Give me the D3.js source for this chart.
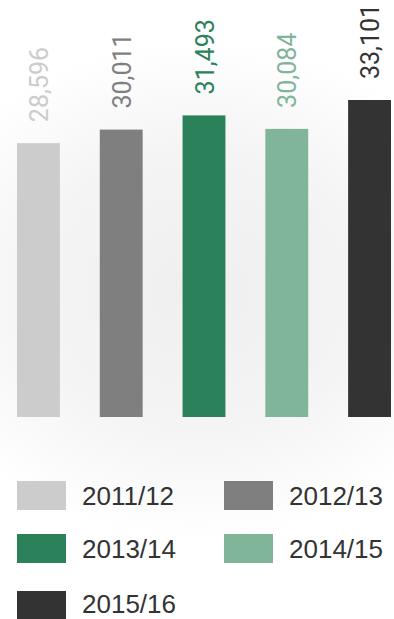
<!DOCTYPE html>
<html>
<head>
<meta charset="utf-8">
<script src="https://cdn.jsdelivr.net/npm/d3@7"></script>
<style>
  html, body { margin: 0; padding: 0; background: #fff; }
  svg { display: block; }
</style>
</head>
<body>
<div id="chart"></div>
<script>
// Yearly totals per season
const seasons = ["2011/12", "2012/13", "2013/14", "2014/15", "2015/16"];
const totals = [28596, 30011, 31493, 30084, 33101];
const colors = ["#cccccc", "#7f7f7f", "#2b8159", "#80b59a", "#333333"];

const W = 394, H = 619;
const svg = d3.select("#chart").append("svg")
  .attr("width", W).attr("height", H);

// soft backdrop glow behind the bars
const defs = svg.append("defs");
const grad = defs.append("radialGradient").attr("id", "glow")
  .attr("cx", "50%").attr("cy", "50%").attr("r", "50%");
grad.append("stop").attr("offset", "0%").attr("stop-color", "#efefef");
grad.append("stop").attr("offset", "55%").attr("stop-color", "#f4f4f4");
grad.append("stop").attr("offset", "100%").attr("stop-color", "#ffffff");
svg.append("rect").attr("width", W).attr("height", H).attr("fill", "#fff");
svg.append("ellipse")
  .attr("cx", 200).attr("cy", 290).attr("rx", 300).attr("ry", 250)
  .attr("fill", "url(#glow)");

const x = d3.scaleBand().domain(seasons).range([17, 391]).paddingInner(0.482).paddingOuter(0);
const y = d3.scaleLinear().domain([0, 33101]).range([417, 100]);

const fmt = d3.format(",");

const g = svg.append("g");
g.selectAll("rect.bar")
  .data(seasons)
  .join("rect")
  .attr("class", "bar")
  .attr("x", d => x(d))
  .attr("width", x.bandwidth())
  .attr("y", (d, i) => y(totals[i]))
  .attr("height", (d, i) => y(0) - y(totals[i]))
  .attr("fill", (d, i) => colors[i]);

g.selectAll("text.val")
  .data(seasons)
  .join("text")
  .attr("class", "val")
  .attr("transform", (d, i) => `translate(${x(d) + x.bandwidth() / 2},${y(totals[i]) - 21}) rotate(-90)`)
  .attr("dy", "0.38em")
  .attr("text-anchor", "start")
  .attr("font-family", "Roboto, sans-serif")
  .attr("font-size", 25)
  .attr("fill", (d, i) => colors[i])
  .text((d, i) => fmt(totals[i]));

// legend: two columns
const legendRows = [481, 534, 591];
const legendCols = [17, 224];
const leg = svg.append("g");
seasons.forEach((s, i) => {
  const col = i % 2, row = Math.floor(i / 2);
  const lx = legendCols[col], ly = legendRows[row];
  leg.append("rect")
    .attr("x", lx).attr("y", ly).attr("width", 49).attr("height", 29)
    .attr("fill", colors[i]);
  leg.append("text")
    .attr("x", lx + 65).attr("y", Math.min(ly + 24, 613))
    .attr("font-family", "'Liberation Sans', Arial, Helvetica, sans-serif")
    .attr("font-size", 26)
    .attr("fill", "#333")
    .text(s);
});
</script>
</body>
</html>
